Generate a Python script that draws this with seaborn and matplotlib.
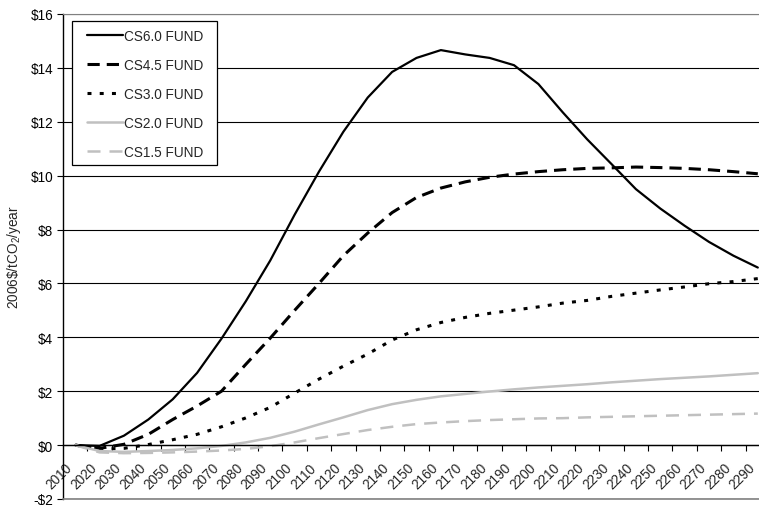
import matplotlib
matplotlib.use('Agg')

import pandas as pd
import matplotlib.pyplot as plt
import matplotlib.ticker as mticker
from matplotlib.patches import Rectangle
from matplotlib.transforms import ScaledTranslation
import seaborn as sns

# decades shown on the category axis
years = list(range(2010, 2300, 10))

# social cost of carbon, 2006$/tCO2/year
cs60 = [0, -0.03, 0.35, 0.95, 1.7, 2.68, 3.95, 5.34, 6.85, 8.55,
        10.15, 11.63, 12.9, 13.85, 14.37, 14.66, 14.5, 14.37, 14.1, 13.4,
        12.35, 11.35, 10.43, 9.5, 8.78, 8.14, 7.54, 7.03, 6.59]
cs45 = [0, -0.12, 0.03, 0.4, 0.95, 1.45, 2.0, 3.0, 3.97, 5.0,
        6.0, 7.03, 7.87, 8.63, 9.19, 9.54, 9.77, 9.94, 10.06, 10.15,
        10.22, 10.27, 10.29, 10.32, 10.3, 10.27, 10.22, 10.15, 10.07]
cs30 = [0, -0.15, -0.12, 0.02, 0.2, 0.4, 0.68, 1.01, 1.4, 1.93,
        2.45, 2.93, 3.38, 3.9, 4.28, 4.55, 4.74, 4.89, 5.01, 5.13,
        5.27, 5.37, 5.52, 5.64, 5.76, 5.87, 5.99, 6.07, 6.18]
cs20 = [0, -0.22, -0.25, -0.22, -0.18, -0.12, -0.03, 0.1, 0.27, 0.5,
        0.77, 1.03, 1.3, 1.52, 1.68, 1.81, 1.9, 1.99, 2.07, 2.14,
        2.2, 2.26, 2.33, 2.39, 2.45, 2.5, 2.55, 2.61, 2.67]
cs15 = [0, -0.27, -0.3, -0.29, -0.27, -0.24, -0.2, -0.14, -0.04, 0.1,
        0.26, 0.41, 0.56, 0.68, 0.78, 0.84, 0.89, 0.93, 0.96, 0.99,
        1.0, 1.03, 1.05, 1.07, 1.09, 1.11, 1.13, 1.15, 1.17]

series_names = ['CS6.0 FUND', 'CS4.5 FUND', 'CS3.0 FUND',
                'CS2.0 FUND', 'CS1.5 FUND']
y_ticks = list(range(-2, 17, 2))

sns.set_style('white')
plt.rcParams['font.family'] = ['Liberation Sans', 'DejaVu Sans']
plt.rcParams['mathtext.fontset'] = 'custom'
plt.rcParams['mathtext.rm'] = 'Liberation Sans'
plt.rcParams['mathtext.it'] = 'Liberation Sans:italic'
plt.rcParams['lines.dash_capstyle'] = 'butt'

FS = 9.8
W, H = 759, 506
fig = plt.figure(figsize=(W / 100, H / 100), dpi=100)
# plot area runs a little past the right edge of the picture
ax = fig.add_axes([63 / W, 6 / H, 707 / W, 485 / H])

styles = {
    'CS6.0 FUND': dict(color='black', linewidth=1.6, linestyle='-'),
    'CS4.5 FUND': dict(color='black', linewidth=2.2, linestyle=(0, (4.0, 2.3))),
    'CS3.0 FUND': dict(color='black', linewidth=2.2, linestyle=(0, (1.3, 2.7))),
    'CS2.0 FUND': dict(color='#c0c0c0', linewidth=1.8, linestyle='-'),
    'CS1.5 FUND': dict(color='#c0c0c0', linewidth=1.8, linestyle=(0, (5.2, 3.6))),
}

df = pd.DataFrame({'year': years, 'CS6.0 FUND': cs60, 'CS4.5 FUND': cs45,
                   'CS3.0 FUND': cs30, 'CS2.0 FUND': cs20, 'CS1.5 FUND': cs15})

for name in series_names:
    sns.lineplot(data=df, x='year', y=name, ax=ax, label=name,
                 errorbar=None, legend=False, solid_joinstyle='round',
                 **styles[name])

ax.set_xlim(years[0] - 5, years[-1] + 5)
ax.set_ylim(-2, 16)
ax.set_xlabel('')

# y axis
ax.set_yticks(y_ticks)
ax.yaxis.set_major_formatter(mticker.FuncFormatter(
    lambda v, p: f'-${abs(v):.0f}' if v < 0 else f'${v:.0f}'))
ax.tick_params(axis='y', length=4, width=0.8, direction='out', pad=3,
               labelsize=FS, colors='black', left=True)
ax.yaxis.grid(True, color='black', linewidth=0.8)
ax.xaxis.grid(False)
ax.set_axisbelow(True)
ax.set_ylabel(r'2006\$/tCO$_{2}$/year', fontsize=FS)
ax.yaxis.set_label_coords(-40 / 707, 0.5)

# category axis sits at $0
ax.spines['bottom'].set_position(('data', 0))
ax.spines['bottom'].set_color('black')
ax.spines['bottom'].set_linewidth(1.0)
ax.spines['left'].set_color('black')
ax.spines['left'].set_linewidth(1.0)
ax.spines['top'].set_color('#808080')
ax.spines['right'].set_visible(False)
ax.axhline(-2, color='#808080', linewidth=1.2, clip_on=False, zorder=3)

ax.set_xticks(years)
ax.set_xticklabels([str(y) for y in years], rotation=45, ha='right',
                   va='center', rotation_mode='anchor', fontsize=FS)
ax.set_xticks([y + 5 for y in years], minor=True)
ax.tick_params(axis='x', which='major', length=0, pad=14.5, bottom=True)
ax.tick_params(axis='x', which='minor', length=4, width=0.8,
               direction='out', color='black', bottom=True)
shift = ScaledTranslation(-5 / 100, 0, fig.dpi_scale_trans)
for lab in ax.get_xticklabels():
    lab.set_transform(lab.get_transform() + shift)

# legend with a separate box
handles, labels = ax.get_legend_handles_labels()
if ax.get_legend() is not None:
    ax.get_legend().remove()
box = Rectangle((72 / W, 1 - 166 / H), 145 / W, 144 / H,
                transform=fig.transFigure, facecolor='white',
                edgecolor='black', linewidth=0.9, zorder=5, clip_on=False)
ax.add_patch(box)
leg = ax.legend(handles, labels, loc='upper left',
                bbox_to_anchor=(87 / W, 1 - 30 / H),
                bbox_transform=fig.transFigure, frameon=False,
                borderpad=0, borderaxespad=0, handlelength=2.65,
                handletextpad=0.1, labelspacing=1.1, fontsize=FS)
leg.set_zorder(6)

fig.savefig('out.png', dpi=100, facecolor='white')
